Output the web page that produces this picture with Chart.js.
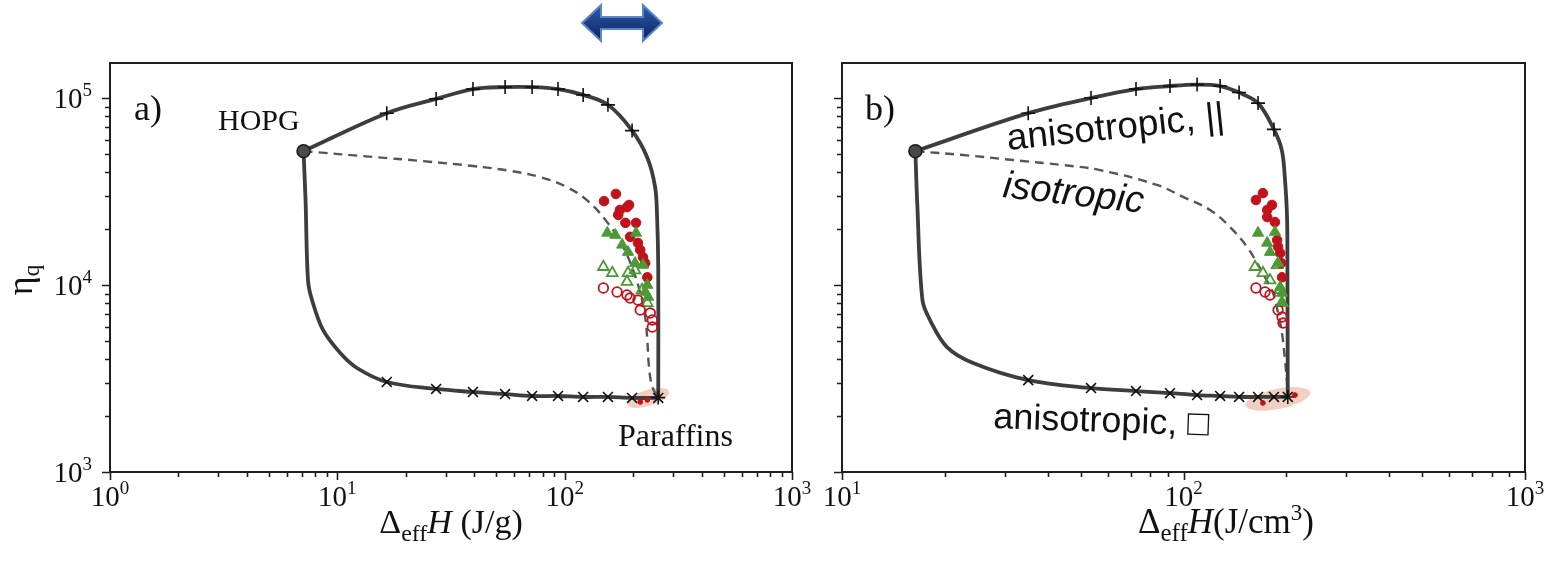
<!DOCTYPE html>
<html>
<head>
<meta charset="utf-8">
<script src="https://cdn.jsdelivr.net/npm/chart.js@4.4.1/dist/chart.umd.min.js"></script>
<style>
  body { margin: 0; background: #fff; }
  .panel { position: absolute; top: 0; }
  #wrapA { left: 0; z-index: 2; }
  #wrapB { left: 800px; z-index: 1; }
</style>
</head>
<body>
<div class="panel" id="wrapA"><canvas id="chartA" width="840" height="565"></canvas></div>
<div class="panel" id="wrapB"><canvas id="chartB" width="752" height="565"></canvas></div>
<script>
// ---- data, panel a (J/g) ----
const hopgA = [7.1, 5.2e4];
const markXA = [16.5, 27.2, 39.5, 54.7, 71.9, 93.5, 120.6, 155, 198, 258];
const upperMarkYA = [8.3e4, 9.9e4, 1.117e5, 1.145e5, 1.145e5, 1.117e5, 1.04e5, 9.2e4, 6.7e4, 2500];
const upperTailXA = [231, 250, 255, 258];
const upperTailYA = [4.8e4, 3.34e4, 2.31e4, 1.25e4];
const lowerHeadXA = [7.25, 7.43, 7.74, 8.65, 10.3, 12.2];
const lowerHeadYA = [2.8e4, 1.06e4, 8310, 5750, 4330, 3600];
const lowerMarkYA = [3030, 2780, 2680, 2610, 2550, 2550, 2520, 2520, 2490, 2490];
const isoXA = [7.1, 14.4, 23.8, 39.5, 57.5, 78, 100.4, 126.7, 153.7, 179, 200, 215, 226, 231, 235, 243, 258];
const isoYA = [5.2e4, 4.84e4, 4.6e4, 4.33e4, 4.08e4, 3.78e4, 3.38e4, 2.81e4, 2.17e4, 1.64e4, 1.20e4, 9060, 6740, 5080, 3640, 2850, 2500];
const redFillXA = [168, 149, 192, 188, 175, 172, 185, 206, 194, 210, 215, 221, 226, 231];
const redFillYA = [3.07e4, 2.81e4, 2.68e4, 2.61e4, 2.52e4, 2.37e4, 2.15e4, 2.15e4, 1.81e4, 1.68e4, 1.54e4, 1.41e4, 1.31e4, 1.10e4];
const greenFillXA = [154, 167, 206, 179, 190, 204, 221, 231, 226, 233];
const greenFillYA = [1.90e4, 1.85e4, 1.90e4, 1.64e4, 1.50e4, 1.31e4, 1.28e4, 1.0e4, 9180, 8630];
const greenOpenXA = [148, 162, 190, 188, 219, 231, 204];
const greenOpenYA = [1.25e4, 1.16e4, 1.16e4, 1.04e4, 9400, 8010, 1.20e4];
const redOpenXA = [148, 170, 188, 194, 210, 215, 238, 243, 243];
const redOpenYA = [9640, 9180, 8850, 8520, 8310, 7350, 7080, 6500, 5960];
const paraffinXA = [215, 231];
const paraffinYA = [2370, 2430];
const paraffinZoneA = [233, 2490];

// ---- data, panel b (J/cm3) ----
const hopgB = [16.4, 5.2e4];
const markXB = [35.1, 53.6, 72.6, 91.3, 109.6, 128, 145.5, 165.3, 184, 202];
const upperMarkYB = [8.3e4, 1.0e5, 1.117e5, 1.16e5, 1.18e5, 1.16e5, 1.07e5, 9.4e4, 6.8e4, 2520];
const upperTailXB = [194, 198, 201, 201.5];
const upperTailYB = [5.27e4, 3.78e4, 2.31e4, 1.25e4];
const lowerHeadXB = [16.6, 17.2, 18.1, 20.3, 24.2];
const lowerHeadYB = [2.8e4, 8310, 6500, 4660, 3830];
const lowerMarkYB = [3100, 2810, 2710, 2640, 2580, 2550, 2520, 2520, 2520, 2520];
const isoXB = [16.4, 22.6, 31.7, 44.4, 56.9, 83.6, 99.7, 119.6, 136.9, 153.5, 164.2, 173.3, 182.9, 189.2, 194.3, 198.2, 201, 202];
const isoYB = [5.2e4, 4.96e4, 4.66e4, 4.38e4, 4.12e4, 3.43e4, 2.96e4, 2.52e4, 2.04e4, 1.60e4, 1.31e4, 1.10e4, 9060, 7080, 5530, 3970, 2990, 2520];
const redFillXB = [170.8, 163, 181.6, 175.8, 175.8, 185.3, 188, 189.2, 191.9, 193.2, 194.3];
const redFillYB = [3.10e4, 2.85e4, 2.68e4, 2.52e4, 2.31e4, 2.17e4, 1.74e4, 1.60e4, 1.48e4, 1.31e4, 1.10e4];
const greenFillXB = [165.3, 185.3, 175.8, 179.2, 189.2, 191.9, 194.3, 194.3];
const greenFillYB = [1.90e4, 1.92e4, 1.68e4, 1.50e4, 1.31e4, 9750, 9060, 8110];
const greenOpenXB = [161.9, 170.8, 188, 179.2, 191.9, 194.3];
const greenOpenYB = [1.25e4, 1.16e4, 1.28e4, 1.06e4, 9400, 8010];
const redOpenXB = [163, 173.3, 179.2, 189.2, 194.3, 195.6];
const redOpenYB = [9640, 9180, 8850, 7350, 6740, 6260];
const paraffinXB = [170.8, 212];
const paraffinYB = [2340, 2580];
const paraffinZoneB = [189, 2460];

// ---- axes ----
const xExpA = [0, 1, 2, 3];
const xExpB = [1, 2, 3];
const yExp = [3, 4, 5];
const yMax = 1.54e5;

const SERIF = '"Liberation Serif", "Times New Roman", serif';
const SANS = '"Liberation Sans", Arial, sans-serif';
const RED = '#c1121c';
const GREEN = '#4b9a35';
const LINE = '#3d3d3d';

function pts(xs, ys) { return xs.map((x, i) => ({ x: x, y: ys[i] })); }

function logTicks(lo, hi) {
  const out = [];
  for (let d = Math.log10(lo); d < Math.log10(hi); d++) {
    for (let k = 1; k < 10; k++) out.push({ value: k * Math.pow(10, d), major: k === 1 });
  }
  out.push({ value: hi, major: true });
  return out;
}

// draws pieces of text one after another: [text, font, dy]
function drawRich(ctx, parts, x, y, align) {
  let w = 0;
  parts.forEach(p => { ctx.font = p[1]; w += ctx.measureText(p[0]).width; });
  let cx = align === 'center' ? x - w / 2 : align === 'right' ? x - w : x;
  ctx.textAlign = 'left';
  ctx.textBaseline = 'alphabetic';
  parts.forEach(p => {
    ctx.font = p[1];
    ctx.fillText(p[0], cx, y + (p[2] || 0));
    cx += ctx.measureText(p[0]).width;
  });
}

function powLabel(ctx, e, x, y, align) {
  drawRich(ctx, [['10', '29px ' + SERIF], [String(e), '19px ' + SERIF, -12]], x, y, align);
}

function framePlugin(opts) {
  return {
    id: 'frame' + opts.name,
    beforeDatasetsDraw(chart) {
      const ctx = chart.ctx;
      const sx = chart.scales.x, sy = chart.scales.y;
      // pale zone around the paraffins
      const z = opts.zone;
      ctx.save();
      ctx.fillStyle = 'rgba(228,172,140,0.55)';
      ctx.beginPath();
      ctx.ellipse(sx.getPixelForValue(z[0]), sy.getPixelForValue(z[1]), z[2], z[3], z[4], 0, Math.PI * 2);
      ctx.fill();
      ctx.restore();
    },
    afterDraw(chart) {
      const ctx = chart.ctx;
      const a = chart.chartArea;
      const sx = chart.scales.x, sy = chart.scales.y;
      ctx.save();
      ctx.strokeStyle = '#1e1e1e';
      ctx.lineWidth = 2;
      ctx.strokeRect(a.left, a.top, a.right - a.left, a.bottom - a.top);
      ctx.lineWidth = 1.6;
      ctx.beginPath();
      sy.ticks.forEach(t => {
        const p = Math.round(sy.getPixelForValue(t.value)) + 0.5;
        if (p < a.top - 1) return;
        ctx.moveTo(a.left, p);
        ctx.lineTo(a.left - (t.major ? 8 : 5), p);
      });
      sx.ticks.forEach(t => {
        const p = Math.round(sx.getPixelForValue(t.value)) + 0.5;
        ctx.moveTo(p, a.bottom);
        ctx.lineTo(p, a.bottom + (t.major ? 8 : 5));
      });
      ctx.stroke();

      ctx.fillStyle = '#111';
      opts.xExp.forEach(e => powLabel(ctx, e, sx.getPixelForValue(Math.pow(10, e)), a.bottom + 34, 'center'));
      if (opts.yLabels) {
        yExp.forEach(e => powLabel(ctx, e, a.left - 18, sy.getPixelForValue(Math.pow(10, e)) + 10, 'right'));
      }
      opts.draw(ctx, chart);
      ctx.restore();
    }
  };
}

function lineSet(data, dashed) {
  return {
    data: data, showLine: true, tension: dashed ? 0.4 : 0.35, pointRadius: 0,
    borderColor: dashed ? '#555' : LINE, borderWidth: dashed ? 2.4 : 3.8,
    borderDash: dashed ? [9, 6] : [], order: 5
  };
}

function markSet(data, style) {
  return {
    data: data, showLine: false, pointStyle: style, pointRadius: 7,
    borderColor: '#111', borderWidth: 1.6, backgroundColor: '#111', order: 4
  };
}

function scatterSet(data, style, color, filled, r) {
  return {
    data: data, showLine: false, pointStyle: style, pointRadius: r,
    borderColor: color, backgroundColor: filled ? color : 'rgba(255,255,255,0)',
    borderWidth: filled ? 1 : 1.8, order: filled ? 2 : 3
  };
}

function makeChart(id, p) {
  const upper = [{ x: p.hopg[0], y: p.hopg[1] }].concat(pts(p.markX.slice(0, -1), p.upperMarkY.slice(0, -1)))
    .concat(pts(p.upperTailX, p.upperTailY)).concat([{ x: p.markX[p.markX.length - 1], y: p.upperMarkY[p.upperMarkY.length - 1] }]);
  const lower = [{ x: p.hopg[0], y: p.hopg[1] }].concat(pts(p.lowerHeadX, p.lowerHeadY)).concat(pts(p.markX, p.lowerMarkY));
  return new Chart(document.getElementById(id), {
    type: 'scatter',
    data: {
      datasets: [
        lineSet(upper, false),
        lineSet(lower, false),
        lineSet(pts(p.isoX, p.isoY), true),
        markSet(pts(p.markX, p.upperMarkY), 'cross'),
        markSet(pts(p.markX, p.lowerMarkY), 'crossRot'),
        scatterSet(pts(p.redOpenX, p.redOpenY), 'circle', RED, false, 4.8),
        scatterSet(pts(p.greenOpenX, p.greenOpenY), 'triangle', GREEN, false, 6.2),
        scatterSet(pts(p.greenFillX, p.greenFillY), 'triangle', GREEN, true, 6.5),
        scatterSet(pts(p.redFillX, p.redFillY), 'circle', RED, true, 4.8),
        scatterSet(pts(p.paraffinX, p.paraffinY), 'circle', RED, true, 2.4),
        {
          data: [{ x: p.hopg[0], y: p.hopg[1] }], pointRadius: 6.5, pointStyle: 'circle',
          backgroundColor: '#4a4a4a', borderColor: '#1a1a1a', borderWidth: 1.5, order: 1
        }
      ]
    },
    options: {
      responsive: false,
      animation: false,
      events: [],
      layout: { padding: { top: 63, right: p.padRight, left: 0, bottom: 0 } },
      plugins: { legend: { display: false }, tooltip: { enabled: false } },
      scales: {
        x: {
          type: 'logarithmic', min: p.xMin, max: 1000,
          grid: { display: false }, border: { display: false }, ticks: { display: false },
          afterBuildTicks: s => { s.ticks = logTicks(p.xMin, 1000); },
          afterFit: s => { s.height = 93; }
        },
        y: {
          type: 'logarithmic', min: 1000, max: yMax,
          grid: { display: false }, border: { display: false }, ticks: { display: false },
          afterBuildTicks: s => { s.ticks = logTicks(1000, 1e5); },
          afterFit: s => { s.width = p.yWidth; }
        }
      }
    },
    plugins: [framePlugin(p.frame)]
  });
}

function drawArrow(ctx) {
  const cy = 23;
  ctx.save();
  const g = ctx.createLinearGradient(0, 6, 0, 40);
  g.addColorStop(0, '#2d5aa8');
  g.addColorStop(1, '#0b2462');
  ctx.fillStyle = g;
  ctx.strokeStyle = '#5d86c6';
  ctx.lineWidth = 2;
  ctx.beginPath();
  ctx.moveTo(582, cy);
  ctx.lineTo(601, 5);
  ctx.lineTo(601, 17);
  ctx.lineTo(643, 17);
  ctx.lineTo(643, 5);
  ctx.lineTo(662, cy);
  ctx.lineTo(643, 41);
  ctx.lineTo(643, 29);
  ctx.lineTo(601, 29);
  ctx.lineTo(601, 41);
  ctx.closePath();
  ctx.fill();
  ctx.stroke();
  ctx.restore();
}

function rotText(ctx, text, font, x, y, deg) {
  ctx.save();
  ctx.translate(x, y);
  ctx.rotate(deg * Math.PI / 180);
  ctx.font = font;
  ctx.textAlign = 'left';
  ctx.textBaseline = 'alphabetic';
  ctx.fillText(text, 0, 0);
  ctx.restore();
}

makeChart('chartA', {
  hopg: hopgA, markX: markXA, upperMarkY: upperMarkYA, upperTailX: upperTailXA, upperTailY: upperTailYA,
  lowerHeadX: lowerHeadXA, lowerHeadY: lowerHeadYA, lowerMarkY: lowerMarkYA, isoX: isoXA, isoY: isoYA,
  redFillX: redFillXA, redFillY: redFillYA, greenFillX: greenFillXA, greenFillY: greenFillYA,
  greenOpenX: greenOpenXA, greenOpenY: greenOpenYA, redOpenX: redOpenXA, redOpenY: redOpenYA,
  paraffinX: paraffinXA, paraffinY: paraffinYA,
  xMin: 1, padRight: 48, yWidth: 110,
  frame: {
    name: 'A', xExp: xExpA, yLabels: true, zone: [paraffinZoneA[0], paraffinZoneA[1], 22, 8, -0.3],
    draw(ctx, chart) {
      const a = chart.chartArea;
      ctx.fillStyle = '#111';
      drawRich(ctx, [['a)', '36px ' + SERIF]], a.left + 24, 120, 'left');
      drawRich(ctx, [['HOPG', '30px ' + SERIF]], 218, 130, 'left');
      drawRich(ctx, [['Paraffins', '32px ' + SERIF]], 618, 446, 'left');
      drawRich(ctx, [['Δ', '34px ' + SERIF], ['eff', '24px ' + SERIF, 8], ['H', 'italic 34px ' + SERIF], [' (J/g)', '34px ' + SERIF]],
        (a.left + a.right) / 2, 533, 'center');
      // y title, rotated
      ctx.save();
      ctx.translate(32, 280);
      ctx.rotate(-Math.PI / 2);
      drawRich(ctx, [['η', '36px ' + SERIF], ['q', '23px ' + SERIF, 7]], 0, 0, 'center');
      ctx.restore();
      drawArrow(ctx);
    }
  }
});

makeChart('chartB', {
  hopg: hopgB, markX: markXB, upperMarkY: upperMarkYB, upperTailX: upperTailXB, upperTailY: upperTailYB,
  lowerHeadX: lowerHeadXB, lowerHeadY: lowerHeadYB, lowerMarkY: lowerMarkYB, isoX: isoXB, isoY: isoYB,
  redFillX: redFillXB, redFillY: redFillYB, greenFillX: greenFillXB, greenFillY: greenFillYB,
  greenOpenX: greenOpenXB, greenOpenY: greenOpenYB, redOpenX: redOpenXB, redOpenY: redOpenYB,
  paraffinX: paraffinXB, paraffinY: paraffinYB,
  xMin: 10, padRight: 27, yWidth: 42,
  frame: {
    name: 'B', xExp: xExpB, yLabels: false, zone: [paraffinZoneB[0], paraffinZoneB[1], 33, 10, -0.2],
    draw(ctx, chart) {
      const a = chart.chartArea;
      ctx.fillStyle = '#111';
      drawRich(ctx, [['b)', '36px ' + SERIF]], a.left + 23, 120, 'left');
      rotText(ctx, 'anisotropic, ||', '37px ' + SANS, 208, 150, -6);
      rotText(ctx, 'isotropic', 'italic 38px ' + SANS, 202, 197, 6.5);
      rotText(ctx, 'anisotropic, □', '36px ' + SANS, 193, 428, 2);
      drawRich(ctx, [['Δ', '35px ' + SERIF], ['eff', '25px ' + SERIF, 8], ['H', 'italic 35px ' + SERIF], ['(J/cm', '35px ' + SERIF],
        ['3', '23px ' + SERIF, -13], [')', '35px ' + SERIF]], 426, 533, 'center');
    }
  }
});
</script>
</body>
</html>
